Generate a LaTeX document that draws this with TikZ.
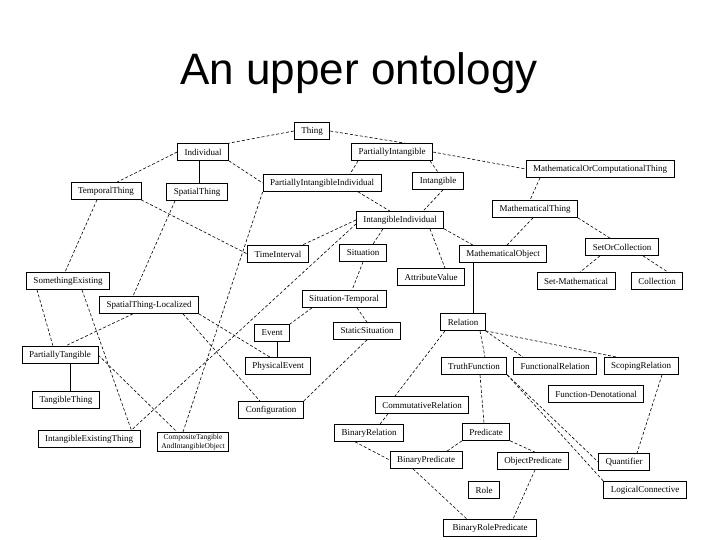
\documentclass[tikz,border=0pt]{standalone}
\usepackage{fontspec}
\setmainfont{Liberation Serif}
\newfontfamily\titlefont{Liberation Sans}

\tikzset{
    cls/.style={draw, fill=white, line width=0.7pt, inner xsep=7pt, inner ysep=2pt,
        minimum height=17pt, font=\fontsize{9}{10}\selectfont},
    isa/.style={line width=0.6pt, dash pattern=on 3pt off 2pt},
    strongisa/.style={line width=0.8pt}
}

\begin{document}
\begin{tikzpicture}[x=1pt, y=-1pt]
    \useasboundingbox (0,0) rectangle (720,540);
    \node[anchor=base, font=\titlefont\fontsize{44}{50}\selectfont] (title) at (359,85) {An upper ontology};

    \node[cls] (thing) at (312,131) {Thing};
    \node[cls] (indiv) at (203,152) {Individual};
    \node[cls] (partint) at (392,152) {PartiallyIntangible};
    \node[cls] (mathcomp) at (600,169) {MathematicalOrComputationalThing};
    \node[cls] (tempthing) at (106,191) {TemporalThing};
    \node[cls] (spatthing) at (197,192) {SpatialThing};
    \node[cls] (pii) at (322,183) {PartiallyIntangibleIndividual};
    \node[cls] (intangible) at (438,181) {Intangible};
    \node[cls] (maththing) at (535,209) {MathematicalThing};
    \node[cls] (ii) at (400,220) {IntangibleIndividual};
    \node[cls] (timeint) at (278,254) {TimeInterval};
    \node[cls] (situation) at (363,253) {Situation};
    \node[cls] (mathobj) at (503,254) {MathematicalObject};
    \node[cls] (setcoll) at (622,247) {SetOrCollection};
    \node[cls] (someex) at (68,281) {SomethingExisting};
    \node[cls] (attval) at (431,277) {AttributeValue};
    \node[cls] (setmath) at (576,281) {Set-Mathematical};
    \node[cls] (collection) at (657,281) {Collection};
    \node[cls] (stl) at (149,305) {SpatialThing-Localized};
    \node[cls] (sittemp) at (344,299) {Situation-Temporal};
    \node[cls] (relation) at (463,322) {Relation};
    \node[cls] (event) at (272,333) {Event};
    \node[cls] (staticsit) at (367,331) {StaticSituation};
    \node[cls] (ptang) at (60,355) {PartiallyTangible};
    \node[cls] (physev) at (278,366) {PhysicalEvent};
    \node[cls] (truthf) at (474,366) {TruthFunction};
    \node[cls] (funcrel) at (555,366) {FunctionalRelation};
    \node[cls] (scoprel) at (641,366) {ScopingRelation};
    \node[cls] (tangthing) at (66,400) {TangibleThing};
    \node[cls] (funcden) at (596,394) {Function-Denotational};
    \node[cls] (config) at (271,410) {Configuration};
    \node[cls] (commrel) at (422,405) {CommutativeRelation};
    \node[cls] (binrel) at (369,433) {BinaryRelation};
    \node[cls] (predicate) at (486,432) {Predicate};
    \node[cls] (iet) at (89,439) {IntangibleExistingThing};
    \node[cls, align=center, inner xsep=4pt, font=\fontsize{7.5}{8.5}\selectfont] (composite) at (193,442) {CompositeTangible\\AndIntangibleObject};
    \node[cls] (binpred) at (426,460) {BinaryPredicate};
    \node[cls] (objpred) at (533,461) {ObjectPredicate};
    \node[cls] (quantifier) at (624,462) {Quantifier};
    \node[cls] (role) at (484,490) {Role};
    \node[cls] (logconn) at (645,490) {LogicalConnective};
    \node[cls, inner xsep=9pt] (binrolepred) at (490,528) {BinaryRolePredicate};

    \draw[isa] (thing.west) -- (indiv.north east);
    \draw[isa] (thing.east) -- ([xshift=13pt]partint.north);
    \draw[isa] (indiv.west) -- ([xshift=11pt]tempthing.north);
    \draw[strongisa] ([xshift=-4pt]indiv.south) -- ([xshift=-4pt]indiv.south |- spatthing.north);
    \draw[isa] (indiv.south east) -- (pii.west);
    \draw[isa] ([xshift=-34pt]partint.south) -- ([xshift=28pt]pii.north);
    \draw[isa] ([xshift=38pt]partint.south) -- (intangible.north);
    \draw[isa] (partint.east) -- (mathcomp.west);
    \draw[isa] ([xshift=36pt]pii.south) -- ([xshift=-10pt]ii.north);
    \draw[isa] ([xshift=5pt]intangible.south) -- ([xshift=23pt]ii.north);
    \draw[isa] ([xshift=-60pt]mathcomp.south) -- ([xshift=-5pt]maththing.north);
    \draw[isa] ([xshift=-2pt]maththing.south) -- ([xshift=4pt]mathobj.north);
    \draw[isa] (maththing.south east) -- ([xshift=-12pt]setcoll.north);
    \draw[isa] ([xshift=-22pt]setcoll.south) -- ([xshift=4pt]setmath.north);
    \draw[isa] ([xshift=21pt]setcoll.south) -- ([xshift=11pt]collection.north);
    \draw[isa] ([xshift=-9pt]tempthing.south) -- ([xshift=-3pt]someex.north);
    \draw[isa] (tempthing.south east) -- (timeint.west);
    \draw[isa] ([xshift=-22pt]spatthing.south) -- ([xshift=-16pt]stl.north);
    \draw[isa] (pii.south west) -- ([xshift=-10pt]composite.north);
    \draw[isa] (ii.west) -- ([xshift=24pt]timeint.north);
    \draw[isa] ([yshift=-4pt]ii.west) -- ([xshift=-9pt]iet.north east);
    \draw[isa] ([xshift=-17pt]ii.south) -- ([xshift=10pt]situation.north);
    \draw[isa] ([xshift=30pt]ii.south) -- ([xshift=14pt]attval.north);
    \draw[isa] (ii.south east) -- ([xshift=-30pt]mathobj.north);
    \draw[isa] (situation.south) -- ([xshift=8pt]sittemp.north);
    \draw[isa] ([xshift=-32pt]sittemp.south) -- (event.north east);
    \draw[isa] ([xshift=13pt]sittemp.south) -- (staticsit.north);
    \draw[strongisa] ([xshift=5pt]event.south) -- ([xshift=5pt]event.south |- physev.north);
    \draw[isa] (staticsit.south) -- (config.north east);
    \draw[isa] ([xshift=-16pt]stl.south) -- ([xshift=5pt]ptang.north);
    \draw[isa] (stl.south east) -- ([xshift=-8pt]physev.north);
    \draw[isa] ([xshift=34pt]stl.south) -- ([xshift=-11pt]config.north);
    \draw[isa] ([xshift=-31pt]someex.south) -- ([xshift=-7pt]ptang.north);
    \draw[isa] ([xshift=14pt]someex.south) -- ([xshift=-9pt]iet.north east);
    \draw[strongisa] ([xshift=10pt]ptang.south) -- ([xshift=10pt]ptang.south |- tangthing.north);
    \draw[isa] (ptang.east) -- ([xshift=-16pt]composite.north);
    \draw[strongisa] ([xshift=10pt]relation.north) -- ([xshift=10pt]relation.north |- mathobj.south);
    \draw[isa] ([xshift=17pt]relation.south) -- ([xshift=11pt]truthf.north);
    \draw[isa] (relation.south east) -- ([xshift=-32pt]funcrel.north);
    \draw[isa] (relation.south east) -- ([xshift=-24pt]scoprel.north);
    \draw[isa] ([xshift=-18pt]relation.south) -- ([xshift=-27pt]commrel.north);
    \draw[isa] ([xshift=6pt]truthf.south) -- ([xshift=-2pt]predicate.north);
    \draw[isa] (truthf.south east) -- (quantifier.west);
    \draw[isa] (truthf.south east) -- (logconn.north west);
    \draw[isa] ([xshift=21pt]scoprel.south) -- ([xshift=13pt]quantifier.north);
    \draw[isa] ([xshift=-34pt]commrel.south) -- ([xshift=11pt]binrel.north);
    \draw[isa] ([xshift=-14pt]binrel.south) -- (binpred.west);
    \draw[isa] (predicate.south west) -- ([xshift=21pt]binpred.north);
    \draw[isa] (predicate.south east) -- ([xshift=2pt]objpred.north);
    \draw[isa] ([xshift=-13pt]binpred.south) -- ([xshift=-23pt]binrolepred.north);
    \draw[isa] ([xshift=2pt]objpred.south) -- ([xshift=23pt]binrolepred.north);
\end{tikzpicture}
\end{document}
